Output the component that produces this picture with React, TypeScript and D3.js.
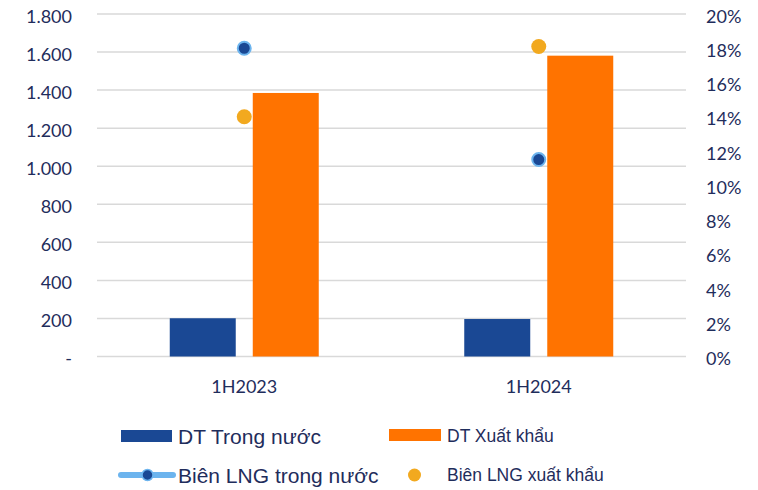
import { scaleBand, scaleLinear, formatLocale } from "d3";

const categories = ["1H2023", "1H2024"];
const series = ["DT Trong nước", "DT Xuất khẩu"];
const domesticRevenue = [201, 197];
const exportRevenue = [1385, 1581];
const domesticMargin = [18.0, 11.5];
const exportMargin = [14.0, 18.1];
const leftTicks = [0, 200, 400, 600, 800, 1000, 1200, 1400, 1600, 1800];
const rightTicks = [0, 2, 4, 6, 8, 10, 12, 14, 16, 18, 20];

const WIDTH = 758;
const HEIGHT = 490;
const PLOT = { left: 97, right: 686, top: 14, bottom: 356.5 };
const TEXT = "#1f2d5c";
const BLUE = "#1a4894";
const ORANGE = "#ff7300";
const LIGHT_BLUE = "#6cb4ee";
const GOLD = "#f2a91f";

const vnFormat = formatLocale({
  decimal: ",",
  thousands: ".",
  grouping: [3],
  currency: ["", ""],
}).format(",");

export default function App() {
  const x0 = scaleBand<string>().domain(categories).range([PLOT.left, PLOT.right]);
  const yLeft = scaleLinear().domain([0, 1800]).range([PLOT.bottom, PLOT.top]);
  const yRight = scaleLinear().domain([0, 20]).range([PLOT.bottom, PLOT.top]);
  const groupWidth = 149;
  const x1 = scaleBand<string>().domain(series).range([0, groupWidth]).paddingInner(0.205);
  const center = (c: string) => (x0(c) ?? 0) + x0.bandwidth() / 2;
  const revenue = [domesticRevenue, exportRevenue];
  const colors = [BLUE, ORANGE];

  return (
    <svg width={WIDTH} height={HEIGHT} style={{ position: "absolute", left: 0, top: 0 }}>
      <style>{`body{margin:0}`}</style>
      {leftTicks.map((t) => (
        <line
          key={t}
          x1={PLOT.left}
          x2={PLOT.right}
          y1={yLeft(t)}
          y2={yLeft(t)}
          stroke="#d9d9d9"
          strokeWidth={1.5}
        />
      ))}
      {leftTicks.map((t) => (
        <text
          key={t}
          x={72}
          y={yLeft(t) + 1.5}
          textAnchor="end"
          dominantBaseline="central"
          fontFamily="Lato"
          fontSize={18}
          fill={TEXT}
        >
          {t === 0 ? "-" : vnFormat(t)}
        </text>
      ))}
      {rightTicks.map((t) => (
        <text
          key={t}
          x={706}
          y={yRight(t) + 1.5}
          dominantBaseline="central"
          fontFamily="Lato"
          fontSize={18}
          fill={TEXT}
        >
          {t}%
        </text>
      ))}
      {categories.map((c, i) =>
        series.map((s, j) => {
          const x = center(c) - groupWidth / 2 + (x1(s) ?? 0);
          const v = revenue[j][i];
          return (
            <rect
              key={c + s}
              x={x}
              y={yLeft(v)}
              width={x1.bandwidth()}
              height={yLeft(0) - yLeft(v)}
              fill={colors[j]}
            />
          );
        })
      )}
      {categories.map((c, i) => (
        <g key={c}>
          <circle cx={center(c)} cy={yRight(exportMargin[i])} r={7.5} fill={GOLD} />
          <circle
            cx={center(c)}
            cy={yRight(domesticMargin[i])}
            r={6.5}
            fill={BLUE}
            stroke={LIGHT_BLUE}
            strokeWidth={2}
          />
        </g>
      ))}
      {categories.map((c) => (
        <text
          key={c}
          x={center(c)}
          y={386}
          textAnchor="middle"
          dominantBaseline="central"
          fontFamily="Lato"
          fontSize={18}
          fill={TEXT}
        >
          {c}
        </text>
      ))}
      {/* legend */}
      <rect x={121} y={430} width={51} height={12} fill={BLUE} />
      <text x={178} y={436} dominantBaseline="central" fontFamily="Liberation Sans" fontSize={21} fill={TEXT}>
        {series[0]}
      </text>
      <rect x={389} y={429} width={52} height={12} fill={ORANGE} />
      <text x={447} y={435.5} dominantBaseline="central" fontFamily="Liberation Sans" fontSize={17.5} fill={TEXT}>
        {series[1]}
      </text>
      <line x1={121} x2={173} y1={475} y2={475} stroke={LIGHT_BLUE} strokeWidth={6} strokeLinecap="round" />
      <circle cx={147.5} cy={475} r={5.5} fill={BLUE} stroke={LIGHT_BLUE} strokeWidth={1.5} />
      <text x={178} y={475} dominantBaseline="central" fontFamily="Liberation Sans" fontSize={21} fill={TEXT}>
        Biên LNG trong nước
      </text>
      <circle cx={414.5} cy={475} r={6.5} fill={GOLD} />
      <text x={447} y={475} dominantBaseline="central" fontFamily="Liberation Sans" fontSize={17.5} fill={TEXT}>
        Biên LNG xuất khẩu
      </text>
    </svg>
  );
}
